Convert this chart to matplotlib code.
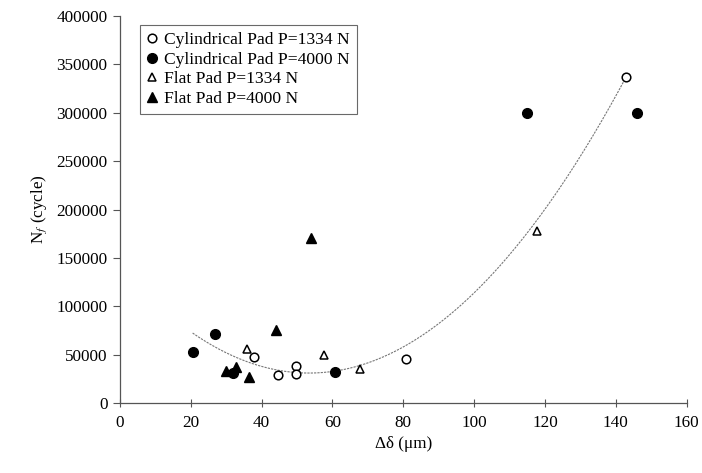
import numpy as np
import matplotlib
matplotlib.use('Agg')
import matplotlib.pyplot as plt

plt.rcParams['font.family'] = ['Liberation Serif', 'DejaVu Serif']
plt.rcParams['mathtext.fontset'] = 'stix'

# Cylindrical pad, P=1334 N (open circles)
cyl1334_x = [37.8, 44.6, 49.6, 49.6, 80.7, 142.9]
cyl1334_y = [47500, 29000, 38000, 30000, 45500, 337000]
# Cylindrical pad, P=4000 N (filled circles)
cyl4000_x = [20.7, 26.9, 31.8, 60.8, 114.8, 145.9]
cyl4000_y = [53000, 71000, 31500, 32000, 300000, 300000]
# Flat pad, P=1334 N (open triangles)
flat1334_x = [35.8, 57.7, 67.8, 117.9]
flat1334_y = [56000, 50000, 35000, 178000]
# Flat pad, P=4000 N (filled triangles)
flat4000_x = [30.0, 32.8, 36.5, 44.0, 53.8]
flat4000_y = [33500, 37500, 27000, 75000, 171000]

# quadratic trend line: a*x^2 + b*x + c
trend_coef = [38.19, -4079.0, 139871.0]
trend_range = [20.5, 142.9]

fig = plt.figure(figsize=(7.02, 4.73), dpi=100)
ax = fig.add_axes([0.171, 0.148, 0.807, 0.818])

xs = np.linspace(trend_range[0], trend_range[1], 200)
ax.plot(xs, np.polyval(trend_coef, xs), color='#777777', lw=0.8, ls=(0, (2, 1)), zorder=1)

ms = 6.2
ax.plot(cyl1334_x, cyl1334_y, 'o', mfc='white', mec='black', mew=1.1, ms=ms,
        label='Cylindrical Pad P=1334 N', zorder=3)
ax.plot(cyl4000_x, cyl4000_y, 'o', mfc='black', mec='black', ms=ms + 0.8,
        label='Cylindrical Pad P=4000 N', zorder=3)
ax.plot(flat1334_x, flat1334_y, '^', mfc='white', mec='black', mew=1.1, ms=ms,
        label='Flat Pad P=1334 N', zorder=3)
ax.plot(flat4000_x, flat4000_y, '^', mfc='black', mec='black', ms=ms + 0.6,
        label='Flat Pad P=4000 N', zorder=3)

ax.set_xlim(0, 160)
ax.set_ylim(0, 400000)
ax.set_xticks(range(0, 161, 20))
ax.set_yticks(range(0, 400001, 50000))
ax.spines['top'].set_visible(False)
ax.spines['right'].set_visible(False)
for s in ['left', 'bottom']:
    ax.spines[s].set_color('#555555')
    ax.spines[s].set_linewidth(0.9)
ax.tick_params(axis='y', direction='out', length=5, color='#555555', labelsize=12.3, pad=4)
ax.tick_params(axis='x', direction='inout', length=6, color='#555555', labelsize=12.3, pad=6)

ax.set_xlabel('Δδ (μm)', fontsize=12.3, labelpad=3)
ax.set_ylabel(r'N$_f$ (cycle)', fontsize=12.3, labelpad=5)

leg = ax.legend(loc='upper left', bbox_to_anchor=(0.035, 0.977), fontsize=12.6,
                frameon=True, fancybox=False, edgecolor='#444444', borderpad=0.4,
                handlelength=0.6, handletextpad=0.4, labelspacing=0.19, borderaxespad=0)
leg.get_frame().set_linewidth(0.8)

fig.savefig('out.png', dpi=100)
